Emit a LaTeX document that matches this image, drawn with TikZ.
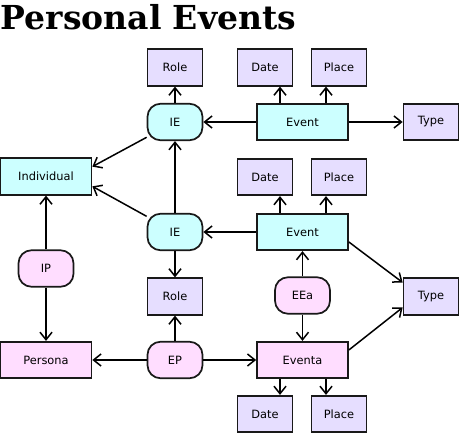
\documentclass[tikz,border=0pt]{standalone}
\usepackage{fontspec}
\setmainfont{DejaVu Sans}
\newfontfamily\titlefont{DejaVu Serif}
\usepackage{xcolor}
\usepackage{tikz}
\usetikzlibrary{arrows.meta,positioning}
\definecolor{indcol}{RGB}{204,255,255}
\definecolor{percol}{RGB}{255,221,255}
\definecolor{attcol}{RGB}{230,222,255}

\begin{document}
\begin{tikzpicture}[
  x=1pt, y=1pt,
  font=\fontsize{11.4}{13}\selectfont,
  base/.style={draw=black!90, line width=1.7pt, inner sep=0pt, minimum height=36.5pt},
  entity/.style={base, minimum width=91pt},
  attr/.style={base, fill=attcol, minimum width=55pt},
  link/.style={base, rounded corners=13pt, minimum width=55pt},
  arrow/.style={-{Straight Barb[length=7.5pt,width=12pt]}, line width=1.5pt}
]
  \useasboundingbox (0,0) rectangle (460,-435);
  \node[anchor=base west, inner sep=0pt, font=\titlefont\bfseries\fontsize{33}{36}\selectfont] (title) at (0.5,-29.5) {Personal Events};

  \node[attr] (role1) at (175,-67.5) {Role};
  \node[attr] (date1) at (265,-67.5) {Date};
  \node[attr] (place1) at (339,-67.5) {Place};
  \node[link, fill=indcol] (ie1) at (175,-122) {IE};
  \node[entity, fill=indcol] (ev1) at (302.5,-122) {Event};
  \node[attr] (type1) at (431,-122) {Type};

  \node[entity, fill=indcol] (ind) at (46,-176.5) {Individual};
  \node[attr] (date2) at (265,-177) {Date};
  \node[attr] (place2) at (339,-177) {Place};
  \node[link, fill=indcol] (ie2) at (175,-232) {IE};
  \node[entity, fill=indcol] (ev2) at (302.5,-232) {Event};

  \node[link, fill=percol] (ip) at (46,-268.5) {IP};
  \node[attr] (role2) at (175,-296.5) {Role};
  \node[link, fill=percol] (eea) at (302.5,-295.5) {EEa};
  \node[attr] (type2) at (431,-296.5) {Type};

  \node[entity, fill=percol] (persona) at (46,-360) {Persona};
  \node[link, fill=percol] (ep) at (175,-360) {EP};
  \node[entity, fill=percol] (eventa) at (302.5,-360) {Eventa};
  \node[attr] (date3) at (265,-414) {Date};
  \node[attr] (place3) at (339,-414) {Place};

  \draw[arrow] (ie1) -- (role1);
  \draw[arrow] (ev1) -- (ie1);
  \draw[arrow] ([xshift=-22.5pt]ev1.north) -- ([xshift=15pt]date1.south);
  \draw[arrow] ([xshift=23.5pt]ev1.north) -- ([xshift=-13pt]place1.south);
  \draw[arrow] (ev1) -- (type1);
  \draw[arrow] (ie1) -- (ind.12);

  \draw[arrow] (ie2) -- (ind.-12);
  \draw[arrow] (ie2) -- (ie1);
  \draw[arrow] (ie2) -- (role2);
  \draw[arrow] (ev2) -- (ie2);
  \draw[arrow] ([xshift=-22.5pt]ev2.north) -- ([xshift=15pt]date2.south);
  \draw[arrow] ([xshift=23.5pt]ev2.north) -- ([xshift=-13pt]place2.south);
  \draw[arrow] ([yshift=-10pt]ev2.east) -- ([yshift=14pt]type2.west);

  \draw[arrow] (ip) -- (ind);
  \draw[arrow] (ip) -- (persona);
  \draw[arrow] (ep) -- (persona);
  \draw[arrow] (ep) -- (role2);
  \draw[arrow] (ep) -- (eventa);
  \draw[arrow] (eea) -- (ev2);
  \draw[arrow] (eea) -- (eventa);
  \draw[arrow] ([yshift=10pt]eventa.east) -- ([yshift=-11pt]type2.west);
  \draw[arrow] ([xshift=-22.5pt]eventa.south) -- ([xshift=15pt]date3.north);
  \draw[arrow] ([xshift=23.5pt]eventa.south) -- ([xshift=-13pt]place3.north);
\end{tikzpicture}
\end{document}
